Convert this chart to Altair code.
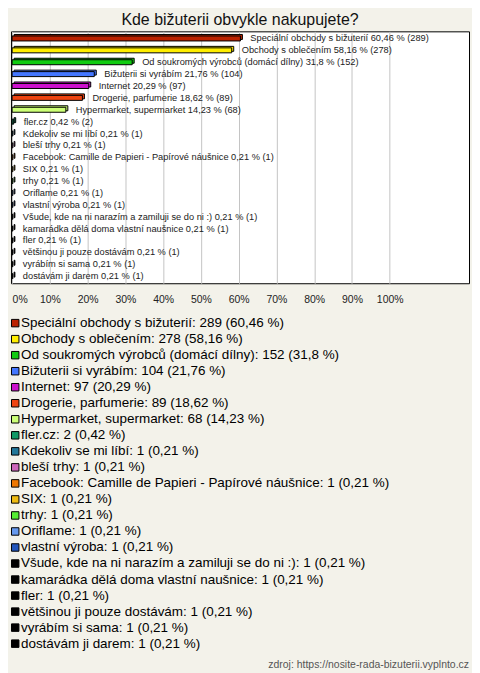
import altair as alt
import pandas as pd

labels = [
    "Speciální obchody s bižuterií", "Obchody s oblečením",
    "Od soukromých výrobců (domácí dílny)", "Bižuterii si vyrábím", "Internet",
    "Drogerie, parfumerie", "Hypermarket, supermarket", "fler.cz",
    "Kdekoliv se mi líbí", "bleší trhy",
    "Facebook: Camille de Papieri - Papírové náušnice", "SIX", "trhy",
    "Oriflame", "vlastní výroba",
    "Všude, kde na ni narazím a zamiluji se do ni :)",
    "kamarádka dělá doma vlastní naušnice", "fler",
    "většinou ji pouze dostávám", "vyrábím si sama", "dostávám ji darem",
]
counts = [289, 278, 152, 104, 97, 89, 68, 2, 1, 1, 1, 1, 1, 1, 1, 1, 1, 1, 1, 1, 1]
pct_values = [60.46, 58.16, 31.8, 21.76, 20.29, 18.62, 14.23, 0.42, 0.21, 0.21, 0.21,
              0.21, 0.21, 0.21, 0.21, 0.21, 0.21, 0.21, 0.21, 0.21, 0.21]
pct_text = ["60,46", "58,16", "31,8", "21,76", "20,29", "18,62", "14,23", "0,42", "0,21",
            "0,21", "0,21", "0,21", "0,21", "0,21", "0,21", "0,21", "0,21", "0,21",
            "0,21", "0,21", "0,21"]
colors = ["#BB2200", "#FFEE00", "#11CC11", "#4477FF", "#CC11CC", "#EE4411", "#CCFF77",
          "#119966", "#227799", "#CC66BB", "#EE7700", "#EEBB11", "#55EE33", "#6699EE",
          "#2255BB", "#000000", "#000000", "#000000", "#000000", "#000000", "#000000"]
ticks = [0, 10, 20, 30, 40, 50, 60, 70, 80, 90, 100]

df = pd.DataFrame({
    "label": labels,
    "count": counts,
    "pct": pct_values,
    "color": colors,
    "bar_text": [f"{l} {p} % ({c})" for l, p, c in zip(labels, pct_text, counts)],
    "legend_text": [f"{l}: {c} ({p} %)" for l, p, c in zip(labels, pct_text, counts)],
})

BG = "#F3F2EA"
FONT = "Liberation Sans"

y_bar = alt.Y("label:N", sort=labels, axis=None,
              scale=alt.Scale(paddingInner=0, paddingOuter=0.1))
x_bar = alt.X("pct:Q", scale=alt.Scale(domain=[-0.3, 121], nice=False, zero=False),
              axis=alt.Axis(values=ticks, labelExpr="datum.value + '%'", title=None,
                            grid=True, gridColor="#C4C4C4", gridWidth=1,
                            ticks=False, domain=False, labelFontSize=10.5,
                            labelFont=FONT, labelColor="#222222", labelPadding=11,
                            labelFlush=3))
color_enc = alt.Color("color:N", scale=None, legend=None)

base = alt.Chart(df)
shadow = base.mark_bar(size=5, xOffset=2, yOffset=-1.5, stroke="black",
                       strokeWidth=1).encode(x=x_bar, y=y_bar, color=color_enc)
face = base.mark_bar(size=5, stroke="black", strokeWidth=1).encode(
    x=x_bar, y=y_bar, color=color_enc)
txt = base.mark_text(align="left", baseline="middle", dx=10, fontSize=9.3,
                     font=FONT, color="#222222").encode(
    x=x_bar, y=y_bar, text="bar_text:N")

top = alt.layer(shadow, face, txt).properties(
    width=460, height=253,
    title=alt.TitleParams("Kde bižuterii obvykle nakupujete?", fontSize=16,
                          font=FONT, fontWeight="normal", color="#111111",
                          anchor="middle", offset=3),
    view=alt.ViewBackground(stroke="black", strokeWidth=1, fill="white"),
)

y_leg = alt.Y("label:N", sort=labels, axis=None,
              scale=alt.Scale(paddingInner=0, paddingOuter=0))
swatch = base.mark_bar(size=7.5, stroke="black", strokeWidth=1).encode(
    x=alt.value(0.5), x2=alt.value(8), y=y_leg, color=color_enc)
leg_text = base.mark_text(align="left", baseline="middle", fontSize=13.5, font=FONT,
                          color="#000000").encode(
    x=alt.value(10), y=y_leg, text="legend_text:N")

legend = alt.layer(swatch, leg_text).properties(
    width=460, height=338,
    title=alt.TitleParams("zdroj: https://nosite-rada-bizuterii.vyplnto.cz",
                          orient="bottom", anchor="end", fontSize=10.5, font=FONT,
                          fontWeight="normal", color="#555555", offset=8),
    view=alt.ViewBackground(stroke=None),
)

chart = alt.vconcat(top, legend, spacing=10).properties(
    background=BG,
    padding={"left": 2, "top": 2, "right": 2, "bottom": 2},
).configure_title(font=FONT)

chart.save("out.html", embed_options={"renderer": "svg", "actions": False})
